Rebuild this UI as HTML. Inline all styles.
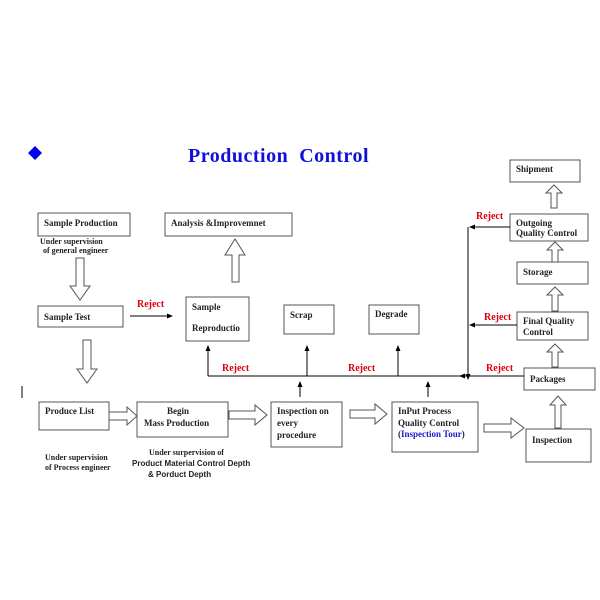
<!DOCTYPE html>
<html><head><meta charset="utf-8"><style>
html,body{margin:0;padding:0;background:#fff;}
svg{display:block;}
text{font-family:"Liberation Serif",serif;font-size:9px;font-weight:bold;fill:#222;}
.r{fill:#e00010;font-size:10px;}
.s{font-family:"Liberation Sans",sans-serif;font-size:8px;}
</style></head><body>
<svg width="600" height="600" viewBox="0 0 600 600" xmlns="http://www.w3.org/2000/svg">
<defs>
<marker id="a" markerWidth="6" markerHeight="6" refX="5" refY="3" orient="auto"><path d="M0,0.5 L6,3 L0,5.5 z" fill="#000"/></marker>
</defs>
<polygon points="35,146 42,153 35,160 28,153" fill="#0000ee"/>
<text x="188" y="162" style="font-size:20px;fill:#1010dd;white-space:pre;letter-spacing:0.5px" xml:space="preserve">Production  Control</text>
<g fill="#fff" stroke="#555" stroke-width="1">
<rect x="38" y="213" width="92" height="23"/>
<rect x="165" y="213" width="127" height="23"/>
<rect x="38" y="306" width="85" height="21"/>
<rect x="186" y="297" width="63" height="44"/>
<rect x="284" y="305" width="50" height="29"/>
<rect x="369" y="305" width="50" height="29"/>
<rect x="510" y="160" width="70" height="22"/>
<rect x="510" y="214" width="78" height="27"/>
<rect x="517" y="262" width="71" height="22"/>
<rect x="517" y="312" width="71" height="28"/>
<rect x="524" y="368" width="71" height="22"/>
<rect x="39" y="402" width="70" height="28"/>
<rect x="137" y="402" width="91" height="35"/>
<rect x="271" y="402" width="71" height="45"/>
<rect x="392" y="402" width="86" height="50"/>
<rect x="526" y="429" width="65" height="33"/>
</g>
<text x="44" y="226">Sample Production</text>
<text x="40" y="244" style="font-size:8px">Under supervision</text>
<text x="43" y="253" style="font-size:8px">of general engineer</text>
<text x="171" y="226">Analysis &amp;Improvemnet</text>
<text x="44" y="320">Sample Test</text>
<text x="192" y="310">Sample</text>
<text x="192" y="331">Reproductio</text>
<text x="290" y="318">Scrap</text>
<text x="375" y="317">Degrade</text>
<text x="516" y="172">Shipment</text>
<text x="516" y="226">Outgoing</text>
<text x="516" y="236">Quality Control</text>
<text x="523" y="275">Storage</text>
<text x="523" y="324">Final Quality</text>
<text x="523" y="335">Control</text>
<text x="530" y="382">Packages</text>
<text x="45" y="414">Produce List</text>
<text x="167" y="414">Begin</text>
<text x="144" y="426">Mass Production</text>
<text x="277" y="414">Inspection on</text>
<text x="277" y="426">every</text>
<text x="277" y="438">procedure</text>
<text x="398" y="414">InPut Process</text>
<text x="398" y="426">Quality Control</text>
<text x="398" y="437">(<tspan style="fill:#1a1acc">Inspection Tour</tspan>)</text>
<text x="532" y="443">Inspection</text>
<text x="45" y="460" style="font-size:8px">Under supervision</text>
<text x="45" y="470" style="font-size:8px">of Process engineer</text>
<text x="149" y="455" style="font-size:8px">Under surpervision of</text>
<text class="s" x="132" y="466">Product Material Control Depth</text>
<text class="s" x="148" y="477">&amp;  Porduct Depth</text>
<text class="r" x="137" y="307">Reject</text>
<text class="r" x="222" y="371">Reject</text>
<text class="r" x="348" y="371">Reject</text>
<text class="r" x="476" y="219">Reject</text>
<text class="r" x="484" y="320">Reject</text>
<text class="r" x="486" y="371">Reject</text>
<g stroke="#000" stroke-width="1" fill="none">
<line x1="130" y1="316" x2="172" y2="316" marker-end="url(#a)"/>
<line x1="208" y1="376" x2="470" y2="376"/>
<line x1="208" y1="376" x2="208" y2="346" marker-end="url(#a)"/>
<line x1="307" y1="376" x2="307" y2="346" marker-end="url(#a)"/>
<line x1="398" y1="376" x2="398" y2="346" marker-end="url(#a)"/>
<line x1="300" y1="397" x2="300" y2="382" marker-end="url(#a)"/>
<line x1="428" y1="397" x2="428" y2="382" marker-end="url(#a)"/>
<line x1="468" y1="227" x2="468" y2="379" marker-end="url(#a)"/>
<line x1="510" y1="227" x2="470" y2="227" marker-end="url(#a)"/>
<line x1="517" y1="325" x2="470" y2="325" marker-end="url(#a)"/>
<line x1="524" y1="376" x2="460" y2="376" marker-end="url(#a)"/>
<line x1="22" y1="386" x2="22" y2="398"/>
</g>
<g fill="#fff" stroke="#555" stroke-width="1">
<polygon points="76,258 84,258 84,286 90,286 80,300 70,286 76,286"/>
<polygon points="232,282 239,282 239,255 245,255 235,239 225,255 232,255"/>
<polygon points="83,340 91,340 91,369 97,369 87,383 77,369 83,369"/>
<polygon points="109,412 127,412 127,407 137,416 127,425 127,420 109,420"/>
<polygon points="229,411 255,411 255,405 267,415 255,425 255,419 229,419"/>
<polygon points="350,410 375,410 375,404 387,414 375,424 375,418 350,418"/>
<polygon points="484,424 511,424 511,418 524,428 511,438 511,432 484,432"/>
<polygon points="551,208 557,208 557,193 562,193 554,185 546,193 551,193"/>
<polygon points="552,262 558,262 558,250 563,250 555,242 547,250 552,250"/>
<polygon points="552,311 558,311 558,295 563,295 555,287 547,295 552,295"/>
<polygon points="552,367 558,367 558,352 563,352 555,344 547,352 552,352"/>
<polygon points="555,428 561,428 561,405 566,405 558,396 550,405 555,405"/>
</g>
</svg>
</body></html>
